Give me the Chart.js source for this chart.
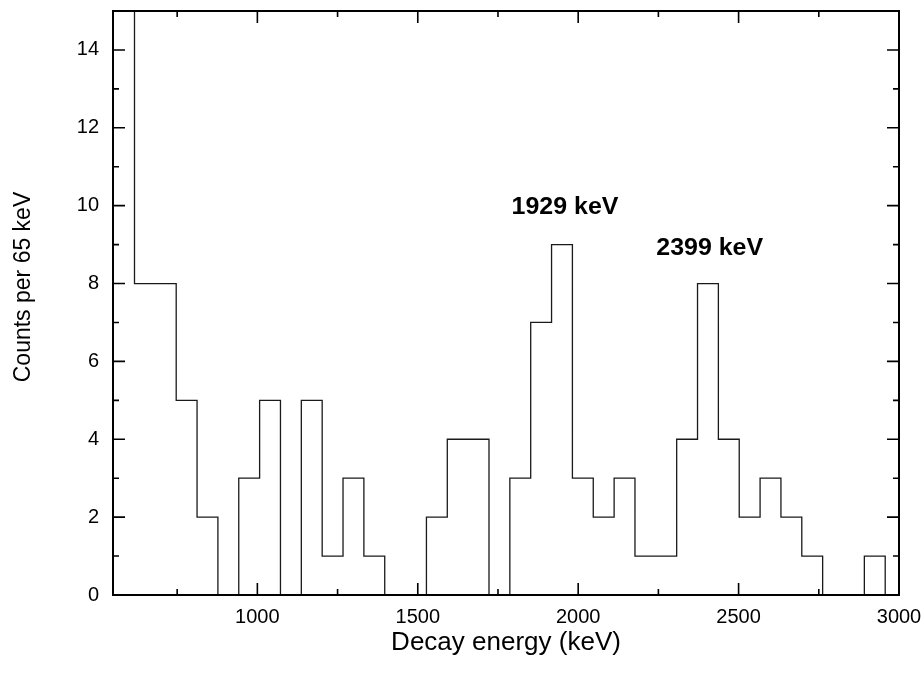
<!DOCTYPE html>
<html><head><meta charset="utf-8">
<script src="https://cdn.jsdelivr.net/npm/chart.js@4/dist/chart.umd.min.js"></script>
<style>html,body{margin:0;padding:0;background:#fff}</style>
</head><body>
<canvas id="c" width="924" height="675"></canvas>
<script>
// Left edges of the 65 keV bins (keV)
const binStarts = [552, 617, 682, 747, 812, 877, 942, 1007, 1072, 1137, 1202, 1267, 1332, 1397, 1462, 1527, 1592, 1657, 1722, 1787, 1852, 1917, 1982, 2047, 2112, 2177, 2242, 2307, 2372, 2437, 2502, 2567, 2632, 2697, 2762, 2827, 2892];
const lastEdge = 2957;
// Counts per bin (first bin runs off the top of the plot)
const counts = [20, 8, 8, 5, 2, 0, 3, 5, 0, 5, 1, 3, 1, 0, 0, 2, 4, 4, 0, 3, 7, 9, 3, 2, 3, 1, 1, 4, 8, 4, 2, 3, 2, 1, 0, 0, 1];
const xTickValues = [1000, 1500, 2000, 2500, 3000];
const xMinorValues = [750, 1250, 1750, 2250, 2750];
const yTickValues = [0, 2, 4, 6, 8, 10, 12, 14];
const yMinorValues = [1, 3, 5, 7, 9, 11, 13];
const peakLabels = ['1929 keV', '2399 keV'];
const peakLabelX = [1959, 2410];
const peakLabelY = [9.95, 8.9];
const yTitle = 'Counts per 65 keV';
const xTitle = 'Decay energy (keV)';

const FONT = '"Liberation Sans", Arial, Helvetica, sans-serif';

const points = binStarts.map((x, i) => ({x: x, y: counts[i]}));
points.push({x: lastEdge, y: 0});

const framePlugin = {
  id: 'frame',
  afterDatasetsDraw(chart) {
    const {ctx, chartArea: a, scales: {x, y}} = chart;
    ctx.save();
    ctx.strokeStyle = '#000';
    ctx.lineWidth = 1.6;
    const tick = (vals, len, horiz) => {
      vals.forEach(v => {
        ctx.beginPath();
        if (horiz) {
          const px = x.getPixelForValue(v);
          ctx.moveTo(px, a.bottom); ctx.lineTo(px, a.bottom - len);
          ctx.moveTo(px, a.top); ctx.lineTo(px, a.top + len);
        } else {
          const py = y.getPixelForValue(v);
          ctx.moveTo(a.left, py); ctx.lineTo(a.left + len, py);
          ctx.moveTo(a.right, py); ctx.lineTo(a.right - len, py);
        }
        ctx.stroke();
      });
    };
    tick(xTickValues, 12, true);
    tick(xMinorValues, 6, true);
    tick(yTickValues, 12, false);
    tick(yMinorValues, 6, false);
    ctx.lineWidth = 2;
    ctx.strokeRect(a.left, a.top, a.right - a.left, a.bottom - a.top);
    ctx.fillStyle = '#000';
    ctx.textAlign = 'center';
    ctx.textBaseline = 'middle';
    // y axis title
    ctx.save();
    ctx.font = '23px ' + FONT;
    ctx.translate(24, (a.top + a.bottom) / 2 - 16);
    ctx.rotate(-Math.PI / 2);
    ctx.fillText(yTitle, 0, 0);
    ctx.restore();
    // peak annotations
    ctx.font = 'bold 24px ' + FONT;
    peakLabels.forEach((t, i) => {
      const px = x.getPixelForValue(peakLabelX[i]);
      const py = y.getPixelForValue(peakLabelY[i]);
      ctx.save();
      ctx.translate(px, py);
      ctx.scale(1.04, 1);
      ctx.fillText(t, 0, 0);
      ctx.restore();
    });
    ctx.restore();
  }
};

new Chart(document.getElementById('c'), {
  type: 'line',
  data: {
    datasets: [{
      data: points,
      stepped: 'before',
      borderColor: '#1a1a1a',
      borderWidth: 1.3,
      pointRadius: 0,
      fill: false,
      tension: 0
    }]
  },
  options: {
    responsive: false,
    animation: false,
    devicePixelRatio: 1,
    layout: {padding: {top: 11, right: 25, bottom: 0, left: 0}},
    plugins: {legend: {display: false}, tooltip: {enabled: false}},
    scales: {
      x: {
        type: 'linear', min: 550, max: 3000,
        grid: {display: false, drawTicks: false, tickLength: 0},
        border: {display: false},
        afterBuildTicks: s => { s.ticks = xTickValues.map(v => ({value: v})); },
        afterFit: s => { s.height = 80; s.paddingLeft = 0; s.paddingRight = 0; },
        ticks: {color: '#000', font: {family: FONT, size: 20}, padding: 10, maxRotation: 0, autoSkip: false,
                callback: v => String(v)},
        title: {display: true, text: xTitle, color: '#000', font: {family: FONT, size: 26}, padding: {top: 0, bottom: 17}}
      },
      y: {
        type: 'linear', min: 0, max: 15,
        grid: {display: false, drawTicks: false, tickLength: 0},
        border: {display: false},
        afterBuildTicks: s => { s.ticks = yTickValues.map(v => ({value: v})); },
        afterFit: s => { s.width = 113; s.paddingTop = 0; s.paddingBottom = 0; },
        ticks: {color: '#000', font: {family: FONT, size: 20}, padding: 14, callback: v => String(v)},
        title: {display: false, text: yTitle}
      }
    }
  },
  plugins: [framePlugin]
});
</script>
</body></html>
